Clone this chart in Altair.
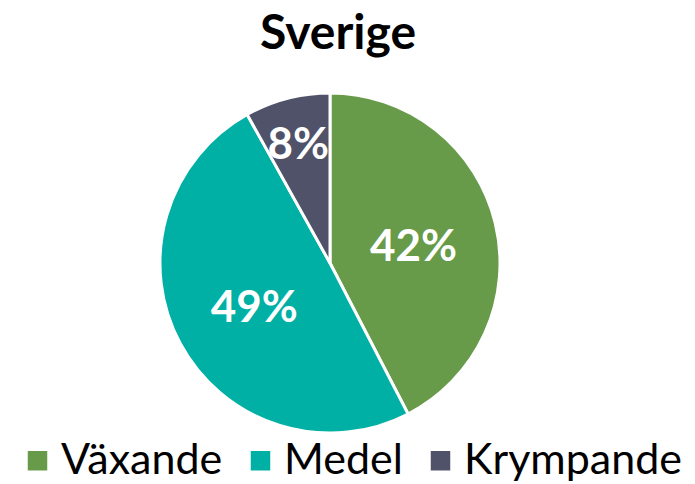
import altair as alt
import pandas as pd

categories = ["Växande", "Medel", "Krympande"]
values = [42.4, 49.5, 8.1]
labels = ["42%", "49%", "8%"]
colors = ["#679B49", "#00B0A5", "#4F5268"]
title_text = "Sverige"

df = pd.DataFrame({"kategori": categories, "andel": values, "etikett": labels,
                   "ordning": list(range(len(categories)))})

CX, CY, R = 322, 255, 170
FONT = "Lato"
total = sum(values)

arcs = alt.Chart(df).mark_arc(outerRadius=R, stroke="white", strokeWidth=3).encode(
    theta=alt.Theta("andel:Q", stack=True),
    order=alt.Order("ordning:Q"),
    x=alt.value(CX), y=alt.value(CY),
    color=alt.Color(
        "kategori:N",
        scale=alt.Scale(domain=categories, range=colors),
        sort=categories,
        legend=alt.Legend(
            title=None, orient="none", direction="horizontal",
            legendX=8, legendY=431,
            symbolType="square", symbolSize=380, symbolStrokeWidth=0,
            labelFont=FONT, labelFontSize=43, labelColor="black",
            labelOffset=2, columnPadding=16, padding=0, labelLimit=400,
        ),
    ),
)

text = alt.Chart(df).transform_window(
    cum="sum(andel)", sort=[alt.SortField("ordning")]
).transform_calculate(
    mid="datum.cum - datum.andel / 2",
    rad="datum.andel < 10 ? 126 : 86",
).mark_text(font=FONT, fontSize=44, fontWeight="bold", color="white",
            baseline="middle", align="center", dy=5).encode(
    theta=alt.Theta("mid:Q", stack=False, scale=alt.Scale(domain=[0, total])),
    x=alt.value(CX), y=alt.value(CY),
    radius=alt.Radius("rad:Q", scale=None),
    text="etikett:N",
)

title = alt.Chart(pd.DataFrame({"t": [title_text]})).mark_text(
    font=FONT, fontSize=48, fontWeight="bold", color="black",
    baseline="alphabetic", align="center"
).encode(x=alt.value(330), y=alt.value(41), text="t:N")

chart = alt.layer(arcs, text, title).resolve_scale(theta="independent").properties(
    width=679, height=476, padding=0,
    autosize=alt.AutoSizeParams(type="none"),
).configure_view(stroke=None)

chart.save("out.html", embed_options={"renderer": "svg", "actions": False})
